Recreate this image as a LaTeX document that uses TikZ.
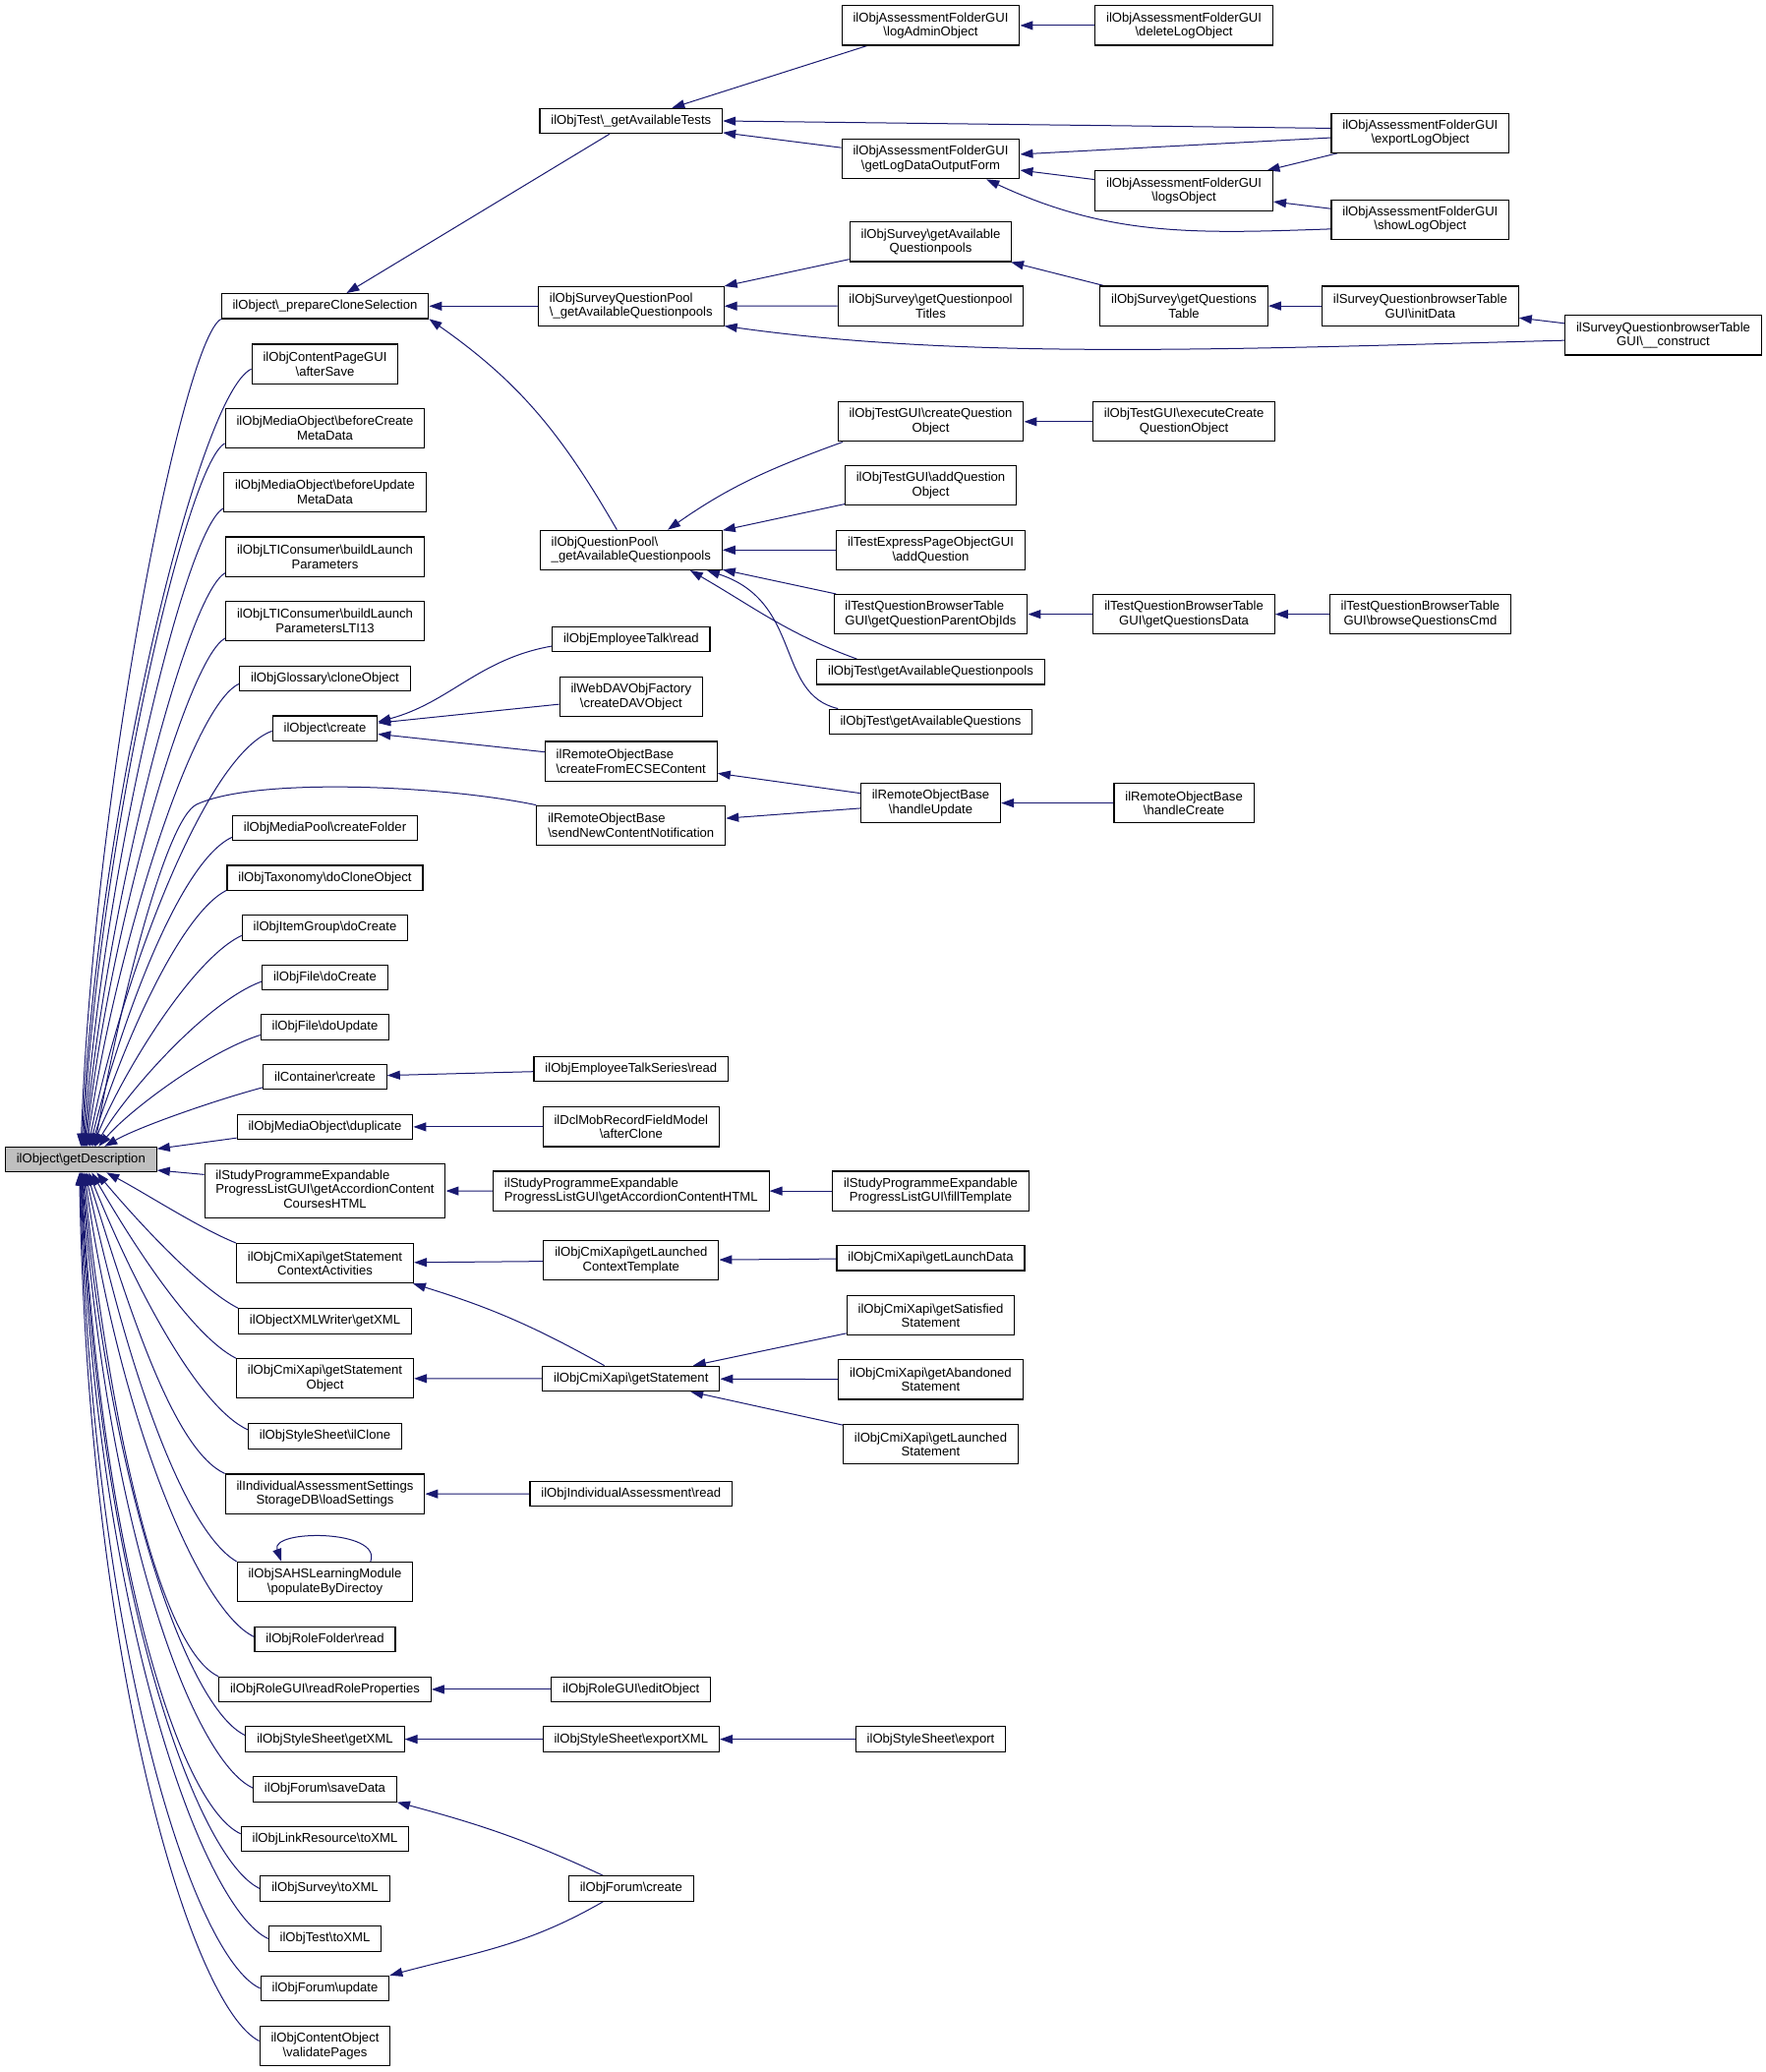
\documentclass[tikz,border=0pt]{standalone}
\usepackage{fontspec}
\setmainfont{Liberation Sans}
\usetikzlibrary{arrows.meta,calc,backgrounds}
\definecolor{edgec}{HTML}{191970}
\definecolor{descgray}{HTML}{BFBFBF}
\newcommand\bs{\textbackslash}
\newcommand\nodefont{\fontsize{13.1pt}{14.5pt}\selectfont}
\tikzset{
  box/.style={draw=black, line width=1.1pt, fill=white, inner xsep=11.4pt, inner ysep=0pt, font=\nodefont, align=center},
  hone/.style={minimum height=25.4pt},
  htwo/.style={minimum height=40.2pt},
  hthree/.style={minimum height=54.3pt},
  lft/.style={align=left},
  arr/.style={draw=edgec, line width=1pt, -{Triangle[length=13pt,width=9pt,fill=edgec]}}
}
\newcommand\upedge[7]{\draw[arr] ($(#1.west)!#2!(#1.south west)$) to[out=#3, out distance=#4pt, in=#5, in distance=#6pt] ($(desc.north)+(#7pt,0)$);}
\newcommand\downedge[7]{\draw[arr] ($(#1.west)!#2!(#1.north west)$) to[out=#3, out distance=#4pt, in=#5, in distance=#6pt] ($(desc.south)+(#7pt,0)$);}
\begin{document}
\begin{tikzpicture}[x=1pt,y=1pt]
\useasboundingbox (0,0) rectangle (1796,-2107);
% ---- column 0
\node[box,hone,fill=descgray] (desc) at (82.3,-1179.1) {ilObject\bs getDescription};
% ---- column 1
\node[box,hone] (pcs) at (330.5,-311.3) {ilObject\bs\_prepareCloneSelection};
\node[box,htwo] (cpg) at (330.5,-370.1) {ilObjContentPageGUI\\\bs afterSave};
\node[box,htwo] (bcm) at (330.5,-435.4) {ilObjMediaObject\bs beforeCreate\\MetaData};
\node[box,htwo] (bum) at (330.5,-500.4) {ilObjMediaObject\bs beforeUpdate\\MetaData};
\node[box,htwo] (blp) at (330.5,-566.1) {ilObjLTIConsumer\bs buildLaunch\\Parameters};
\node[box,htwo] (blpb) at (330.5,-631.3) {ilObjLTIConsumer\bs buildLaunch\\ParametersLTI13};
\node[box,hone] (gco) at (330.5,-690.0) {ilObjGlossary\bs cloneObject};
\node[box,hone] (ocr) at (330.5,-740.7) {ilObject\bs create};
\node[box,hone] (mpf) at (330.5,-842.1) {ilObjMediaPool\bs createFolder};
\node[box,hone] (tdc) at (330.5,-892.7) {ilObjTaxonomy\bs doCloneObject};
\node[box,hone] (igd) at (330.5,-943.4) {ilObjItemGroup\bs doCreate};
\node[box,hone] (fdc) at (330.5,-994.1) {ilObjFile\bs doCreate};
\node[box,hone] (fdu) at (330.5,-1044.5) {ilObjFile\bs doUpdate};
\node[box,hone] (ccr) at (330.5,-1095.2) {ilContainer\bs create};
\node[box,hone] (mod) at (330.5,-1145.9) {ilObjMediaObject\bs duplicate};
\node[box,hthree] (spc) at (330.5,-1211.0) {\begin{tabular}{@{}l@{}}ilStudyProgrammeExpandable\\ProgressListGUI\bs getAccordionContent\\\multicolumn{1}{@{}c@{}}{CoursesHTML}\end{tabular}};
\node[box,htwo] (gsca) at (330.5,-1284.6) {ilObjCmiXapi\bs getStatement\\ContextActivities};
\node[box,hone] (oxw) at (330.5,-1343.4) {ilObjectXMLWriter\bs getXML};
\node[box,htwo] (gso) at (330.5,-1401.8) {ilObjCmiXapi\bs getStatement\\Object};
\node[box,hone] (ssc) at (330.5,-1460.5) {ilObjStyleSheet\bs ilClone};
\node[box,htwo] (ias) at (330.5,-1519.1) {ilIndividualAssessmentSettings\\StorageDB\bs loadSettings};
\node[box,htwo] (sahs) at (330.5,-1608.5) {ilObjSAHSLearningModule\\\bs populateByDirectoy};
\node[box,hone] (rfr) at (330.5,-1667.1) {ilObjRoleFolder\bs read};
\node[box,hone] (rrp) at (330.5,-1717.9) {ilObjRoleGUI\bs readRoleProperties};
\node[box,hone] (ssx) at (330.5,-1768.6) {ilObjStyleSheet\bs getXML};
\node[box,hone] (fsd) at (330.5,-1819.4) {ilObjForum\bs saveData};
\node[box,hone] (lrx) at (330.5,-1870.0) {ilObjLinkResource\bs toXML};
\node[box,hone] (svx) at (330.5,-1920.5) {ilObjSurvey\bs toXML};
\node[box,hone] (tsx) at (330.5,-1971.4) {ilObjTest\bs toXML};
\node[box,hone] (fup) at (330.5,-2022.0) {ilObjForum\bs update};
\node[box,htwo] (cov) at (330.5,-2080.6) {ilObjContentObject\\\bs validatePages};
% ---- column 2
\node[box,hone] (gat) at (641.8,-123.0) {ilObjTest\bs\_getAvailableTests};
\node[box,htwo,lft] (sqp) at (641.8,-311.3) {ilObjSurveyQuestionPool\\\bs\_getAvailableQuestionpools};
\node[box,htwo,lft] (qpp) at (641.8,-559.3) {ilObjQuestionPool\bs\\\_getAvailableQuestionpools};
\node[box,hone] (etr) at (641.8,-650.0) {ilObjEmployeeTalk\bs read};
\node[box,htwo] (dav) at (641.8,-708.6) {ilWebDAVObjFactory\\\bs createDAVObject};
\node[box,htwo,lft] (ecs) at (641.8,-774.1) {ilRemoteObjectBase\\\bs createFromECSEContent};
\node[box,htwo,lft] (snc) at (641.8,-839.3) {ilRemoteObjectBase\\\bs sendNewContentNotification};
\node[box,hone] (ets) at (641.8,-1087.1) {ilObjEmployeeTalkSeries\bs read};
\node[box,htwo] (dcl) at (641.8,-1145.9) {ilDclMobRecordFieldModel\\\bs afterClone};
\node[box,htwo,lft] (gac) at (641.8,-1211.1) {ilStudyProgrammeExpandable\\ProgressListGUI\bs getAccordionContentHTML};
\node[box,htwo] (glct) at (641.8,-1281.8) {ilObjCmiXapi\bs getLaunched\\ContextTemplate};
\node[box,hone] (gst) at (641.8,-1401.9) {ilObjCmiXapi\bs getStatement};
\node[box,hone] (iar) at (641.8,-1519.2) {ilObjIndividualAssessment\bs read};
\node[box,hone] (red) at (641.8,-1717.9) {ilObjRoleGUI\bs editObject};
\node[box,hone] (sex) at (641.8,-1768.6) {ilObjStyleSheet\bs exportXML};
\node[box,hone] (fcr) at (641.8,-1920.5) {ilObjForum\bs create};
% ---- column 3
\node[box,htwo] (lao) at (946.5,-25.9) {ilObjAssessmentFolderGUI\\\bs logAdminObject};
\node[box,htwo] (ldo) at (946.5,-161.7) {ilObjAssessmentFolderGUI\\\bs getLogDataOutputForm};
\node[box,htwo] (gaq) at (946.5,-245.9) {ilObjSurvey\bs getAvailable\\Questionpools};
\node[box,htwo] (gqt) at (946.5,-311.1) {ilObjSurvey\bs getQuestionpool\\Titles};
\node[box,htwo] (cqo) at (946.5,-428.8) {ilObjTestGUI\bs createQuestion\\Object};
\node[box,htwo] (aqo) at (946.5,-493.8) {ilObjTestGUI\bs addQuestion\\Object};
\node[box,htwo] (tep) at (946.5,-559.3) {ilTestExpressPageObjectGUI\\\bs addQuestion};
\node[box,htwo,lft] (qpo) at (946.5,-624.6) {ilTestQuestionBrowserTable\\GUI\bs getQuestionParentObjIds};
\node[box,hone] (taqp) at (946.5,-683.3) {ilObjTest\bs getAvailableQuestionpools};
\node[box,hone] (taq) at (946.5,-733.8) {ilObjTest\bs getAvailableQuestions};
\node[box,htwo] (hup) at (946.5,-816.6) {ilRemoteObjectBase\\\bs handleUpdate};
\node[box,htwo] (fil) at (946.5,-1211.1) {ilStudyProgrammeExpandable\\ProgressListGUI\bs fillTemplate};
\node[box,hone] (gld) at (946.5,-1279.3) {ilObjCmiXapi\bs getLaunchData};
\node[box,htwo] (gss) at (946.5,-1337.8) {ilObjCmiXapi\bs getSatisfied\\Statement};
\node[box,htwo] (gas) at (946.5,-1402.9) {ilObjCmiXapi\bs getAbandoned\\Statement};
\node[box,htwo] (gls) at (946.5,-1468.7) {ilObjCmiXapi\bs getLaunched\\Statement};
\node[box,hone] (sse) at (946.5,-1768.6) {ilObjStyleSheet\bs export};
% ---- column 4
\node[box,htwo] (dlo) at (1204.1,-25.9) {ilObjAssessmentFolderGUI\\\bs deleteLogObject};
\node[box,htwo] (lgo) at (1204.1,-194.0) {ilObjAssessmentFolderGUI\\\bs logsObject};
\node[box,htwo] (gqtb) at (1204.1,-311.1) {ilObjSurvey\bs getQuestions\\Table};
\node[box,htwo] (ecq) at (1204.1,-428.8) {ilObjTestGUI\bs executeCreate\\QuestionObject};
\node[box,htwo] (gqd) at (1204.1,-624.6) {ilTestQuestionBrowserTable\\GUI\bs getQuestionsData};
\node[box,htwo] (hcr) at (1204.1,-816.6) {ilRemoteObjectBase\\\bs handleCreate};
% ---- column 5
\node[box,htwo] (elo) at (1444.4,-135.2) {ilObjAssessmentFolderGUI\\\bs exportLogObject};
\node[box,htwo] (slo) at (1444.4,-223.3) {ilObjAssessmentFolderGUI\\\bs showLogObject};
\node[box,htwo] (sid) at (1444.4,-311.1) {ilSurveyQuestionbrowserTable\\GUI\bs initData};
\node[box,htwo] (bqc) at (1444.4,-624.6) {ilTestQuestionBrowserTable\\GUI\bs browseQuestionsCmd};
% ---- column 6
\node[box,htwo] (sqc) at (1691.5,-340.9) {ilSurveyQuestionbrowserTable\\GUI\bs\_\_construct};

\begin{scope}[on background layer]
\fill[white] (0,0) rectangle (1796,-2107);
% edges into getDescription from above
\upedge{pcs}{1.0}{210}{45}{88}{360}{0}
\upedge{cpg}{0.25}{205}{60}{87.5}{330}{1}
\upedge{bcm}{0.75}{208}{45}{87}{300}{2}
\upedge{bum}{0.8}{208}{45}{86}{270}{3}
\upedge{blp}{0.8}{208}{45}{85}{240}{4}
\upedge{blpb}{0.85}{208}{45}{84}{210}{5}
\upedge{gco}{0.4}{205}{55}{82}{190}{6}
\upedge{ocr}{0.2}{200}{75}{79}{160}{7.5}
\upedge{mpf}{0.7}{205}{60}{76}{125}{9}
\upedge{tdc}{0.95}{207}{55}{73}{100}{10.5}
\upedge{igd}{0.6}{205}{55}{68}{80}{12}
\upedge{fdc}{0.3}{200}{60}{60}{62}{14.5}
\upedge{fdu}{0.6}{198}{60}{50}{45}{18}
\upedge{ccr}{0.8}{195}{50}{30}{40}{24}
\draw[arr] (snc.north west) .. controls +(-95,20) and +(60,28) .. (200,-818) .. controls +(-32,-15) and +(24,138) .. ($(desc.north)+(14pt,0)$);
\draw[arr] ($(mod.west)!0.85!(mod.south west)$) -- (desc.8);
\draw[arr] ($(spc.west)!0.6!(spc.north west)$) -- (desc.-8.3);
% edges into getDescription from below
\downedge{gsca}{1}{158}{40}{-28}{45}{26}
\downedge{oxw}{1}{153}{45}{-50}{60}{16}
\downedge{gso}{1}{153}{50}{-60}{85}{11}
\downedge{ssc}{0.5}{155}{55}{-68}{130}{8}
\downedge{ias}{1}{155}{55}{-73}{160}{6}
\downedge{sahs}{1}{150}{60}{-78}{210}{4.5}
\downedge{rfr}{0.2}{155}{62}{-82}{250}{3.5}
\downedge{rrp}{1}{155}{62}{-84}{280}{2.5}
\downedge{ssx}{0.3}{155}{65}{-85}{320}{1.5}
\downedge{fsd}{0.1}{155}{68}{-86}{360}{1}
\downedge{lrx}{0.4}{155}{70}{-87}{390}{0.5}
\downedge{svx}{0}{155}{72}{-87.5}{420}{0}
\downedge{tsx}{0}{155}{74}{-88}{450}{-0.5}
\downedge{fup}{0}{155}{76}{-88.5}{480}{-1}
\downedge{cov}{0.25}{153}{78}{-89}{500}{-1.5}
% other edges
\draw[arr] (gat) -- (pcs);
\draw[arr] (sqp) -- (pcs);
\draw[arr] (qpp.125) to[out=120, in=-35] (pcs.-7);
\draw[arr] (lao) -- (gat);
\draw[arr] (elo.177.5) -- (gat.east);
\draw[arr] (ldo) -- (gat);
\draw[arr] (elo) -- (ldo);
\draw[arr] (lgo) -- (ldo);
\draw[arr] (slo.186) to[out=182, in=-25] (ldo.-20.6);
\draw[arr] (elo) -- (lgo);
\draw[arr] (slo) -- (lgo);
\draw[arr] (dlo) -- (lao);
\draw[arr] (gaq) -- (sqp);
\draw[arr] (gqt) -- (sqp);
\draw[arr] (sqc.183.2) to[out=181.5, in=-8, out distance=335pt, in distance=250pt] (sqp.-12);
\draw[arr] (gqtb) -- (gaq);
\draw[arr] (sid) -- (gqtb);
\draw[arr] (sqc) -- (sid);
\draw[arr] (cqo.193.8) to[out=200, in=35] (qpp.29);
\draw[arr] (aqo) -- (qpp);
\draw[arr] (tep) -- (qpp);
\draw[arr] (qpo) -- (qpp);
\draw[arr] (taqp.170) to[out=160, in=-30] (qpp.-19.6);
\draw[arr] (taq.172) to[out=167, in=-18, out distance=66pt, in distance=103pt] (qpp.-15.6);
\draw[arr] (ecq) -- (cqo);
\draw[arr] (gqd) -- (qpo);
\draw[arr] (bqc) -- (gqd);
\draw[arr] (etr.185) to[out=190, in=15] (ocr.7);
\draw[arr] (dav) -- (ocr);
\draw[arr] (ecs) -- (ocr);
\draw[arr] (hup) -- (ecs);
\draw[arr] (hup) -- (snc);
\draw[arr] (hcr) -- (hup);
\draw[arr] (ets) -- (ccr);
\draw[arr] (dcl) -- (mod);
\draw[arr] (gac) -- (spc);
\draw[arr] (fil) -- (gac);
\draw[arr] (glct) -- (gsca);
\draw[arr] (gst.154) to[bend right=6] (gsca.-13.8);
\draw[arr] (gst) -- (gso);
\draw[arr] (gld) -- (glct);
\draw[arr] (gss) -- (gst);
\draw[arr] (gas) -- (gst);
\draw[arr] (gls) -- (gst);
\draw[arr] (iar) -- (ias);
\draw[arr] (sahs.24.4) to[out=70, in=110, distance=35pt] (sahs.155);
\draw[arr] (red) -- (rrp);
\draw[arr] (sex) -- (ssx);
\draw[arr] (sse) -- (sex);
\draw[arr] (fcr.155) to[out=155, in=-15] (fsd.south east);
\draw[arr] (fcr.205) to[out=210, in=15] (fup.north east);
\end{scope}
\end{tikzpicture}
\end{document}
